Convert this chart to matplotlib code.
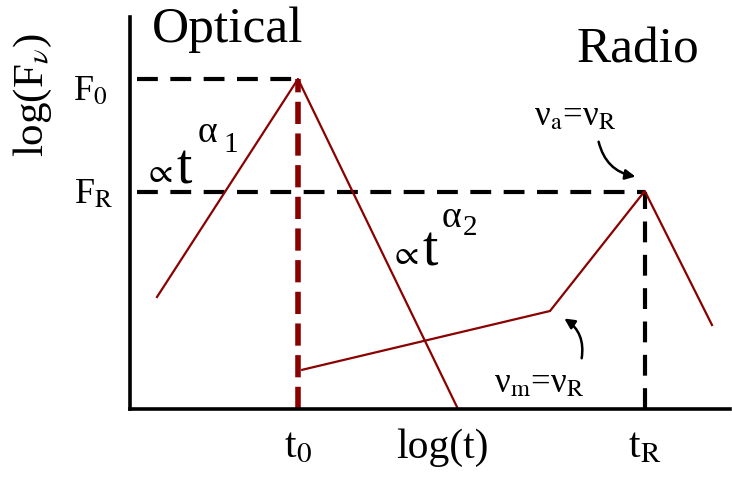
import numpy as np
import matplotlib.pyplot as plt

plt.rcParams['font.family'] = ['Liberation Serif', 'DejaVu Serif']
plt.rcParams['mathtext.fontset'] = 'stix'

# schematic light curves (log t, log F), arbitrary units
opt_t = [0.45, 2.8, 5.45]
opt_f = [2.8, 8.25, 0.05]
radio_t = [2.87, 7.0, 8.58, 9.7]
radio_f = [0.98, 2.45, 5.45, 2.1]

t0, tR = 2.8, 8.58
F0, FR = 8.25, 5.43
xtick_pos = [t0, 5.2, tR]
xtick_lab = ['t$_0$', 'log(t)', 't$_\\mathrm{R}$']

red = '#8b0000'

fig = plt.figure(figsize=(7.32, 4.81), dpi=100)
ax = fig.add_axes([130 / 732, 71 / 481, 600 / 732, 392 / 481])
ax.set_xlim(0, 10)
ax.set_ylim(0, 9.8)
for s in ['top', 'right']:
    ax.spines[s].set_visible(False)
for s in ['left', 'bottom']:
    ax.spines[s].set_linewidth(2.6)

# guide lines
ax.plot([0.12, t0], [F0, F0], 'k--', lw=3, dashes=(5, 3))
ax.plot([0.12, tR], [FR, FR], 'k--', lw=3, dashes=(5, 3))
ax.plot([t0, t0], [0, F0], '--', color=red, lw=4, dashes=(4, 1.7))
ax.plot([tR, tR], [0, FR], 'k--', lw=3, dashes=(5, 3))

# curves
ax.plot(opt_t, opt_f, color=red, lw=1.6)
ax.plot(radio_t, radio_f, color=red, lw=1.6)

ax.set_xticks(xtick_pos, xtick_lab, fontsize=30)
ax.set_yticks([])
ax.tick_params(axis='x', length=0, pad=13)

ax.text(-1.62, 7.875, 'log(F$_\\nu$)', fontsize=31, rotation=90,
        ha='center', va='center', clip_on=False)
ax.text(-0.37, 7.95, 'F$_0$', fontsize=26, ha='right', va='center')
ax.text(-0.28, 5.38, 'F$_\\mathrm{R}$', fontsize=26, ha='right', va='center')

ax.text(1.625, 9.2, 'Optical', fontsize=37, ha='center', va='baseline')
ax.text(8.47, 8.7, 'Radio', fontsize=37, ha='center', va='baseline')

# power-law labels
ax.text(0.22, 5.91, '$\\propto$', fontsize=25, ha='left', va='center')
ax.text(0.78, 5.675, 't', fontsize=40, ha='left', va='baseline')
ax.text(1.13, 6.7, 'α', fontsize=27, ha='left', va='baseline')
ax.text(1.55, 6.45, '1', fontsize=21, ha='left', va='baseline')
ax.text(4.31, 3.85, '$\\propto$', fontsize=25, ha='left', va='center')
ax.text(4.88, 3.625, 't', fontsize=40, ha='left', va='baseline')
ax.text(5.2, 4.575, 'α', fontsize=27, ha='left', va='baseline')
ax.text(5.55, 4.375, '2', fontsize=21, ha='left', va='baseline')

ax.text(7.42, 7.125, 'ν$_\\mathrm{a}$=ν$_\\mathrm{R}$', fontsize=25,
        ha='center', va='baseline')
ax.text(6.82, 0.45, 'ν$_\\mathrm{m}$=ν$_\\mathrm{R}$', fontsize=25,
        ha='center', va='baseline')

ax.annotate('', xy=(8.47, 5.8), xytext=(7.8, 6.75),
            arrowprops=dict(arrowstyle='-|>', color='k', lw=1.8,
                            connectionstyle='arc3,rad=0.35',
                            mutation_scale=15))
ax.annotate('', xy=(7.2, 2.3), xytext=(7.52, 1.2),
            arrowprops=dict(arrowstyle='-|>', color='k', lw=1.8,
                            connectionstyle='arc3,rad=0.35',
                            mutation_scale=15))

fig.savefig('out.png', dpi=100)
